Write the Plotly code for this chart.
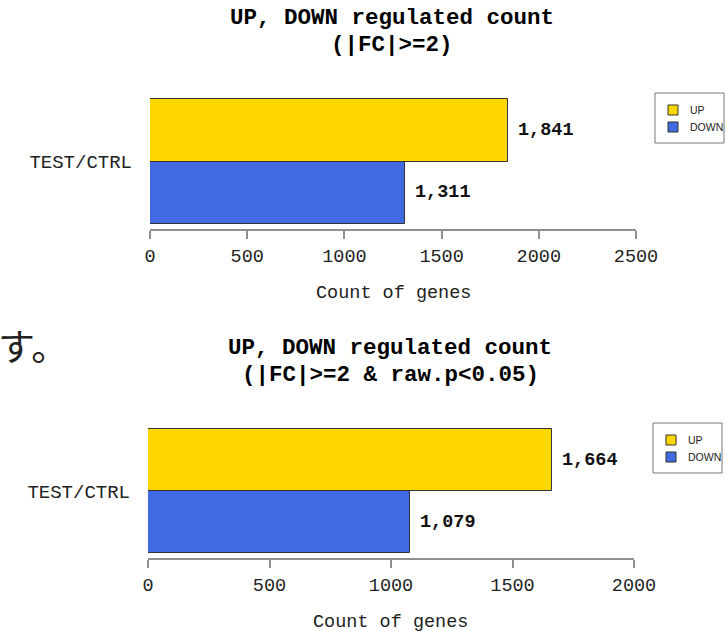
import plotly.graph_objects as go

W, H = 726, 631

category = ["TEST/CTRL"]
series_names = ["UP", "DOWN"]
chart1_up = [1841]
chart1_down = [1311]
chart2_up = [1664]
chart2_down = [1079]
chart1_title = ["UP, DOWN regulated count", "(|FC|>=2)"]
chart2_title = ["UP, DOWN regulated count", "(|FC|>=2 & raw.p<0.05)"]
chart1_ticks = [0, 500, 1000, 1500, 2000, 2500]
chart2_ticks = [0, 500, 1000, 1500, 2000]
x_title = "Count of genes"
side_text = "す。"

UP_COLOR = "#FFD700"
DOWN_COLOR = "#4169E1"
MONO = "Liberation Mono, DejaVu Sans Mono, monospace"
SANS = "Liberation Sans, Arial, sans-serif"

def px_x(p):
    return p / W

def px_y(p):
    return (H - p) / H

fig = go.Figure()

charts = [
    dict(up=chart1_up, down=chart1_down, xa="x", ya="y",
         ticks=chart1_ticks, title=chart1_title),
    dict(up=chart2_up, down=chart2_down, xa="x2", ya="y2",
         ticks=chart2_ticks, title=chart2_title),
]

for c in charts:
    fig.add_trace(go.Bar(
        y=category, x=c["down"], orientation="h", name=series_names[1],
        marker=dict(color=DOWN_COLOR, line=dict(color="#333333", width=1)),
        xaxis=c["xa"], yaxis=c["ya"], hoverinfo="skip", showlegend=False,
    ))
    fig.add_trace(go.Bar(
        y=category, x=c["up"], orientation="h", name=series_names[0],
        marker=dict(color=UP_COLOR, line=dict(color="#333333", width=1)),
        xaxis=c["xa"], yaxis=c["ya"], hoverinfo="skip", showlegend=False,
    ))

# layout geometry (pixels)
geo = [
    dict(x0=150, x1=636, top=97, bottom=229, title_y=(18, 45), xt_y=293,
         leg=(655, 93)),
    dict(x0=148, x1=634, top=427, bottom=558, title_y=(348, 375), xt_y=622,
         leg=(653, 423)),
]

axis_common = dict(
    showline=True, linecolor="#8f8f8f", linewidth=1.5,
    ticks="outside", ticklen=8, tickcolor="#8f8f8f", tickwidth=1.5,
    showgrid=False, zeroline=False, fixedrange=True,
    tickfont=dict(family=MONO, size=18.5, color="#222222"),
    ticklabelstandoff=1,
)

yaxis_common = dict(
    showline=False, ticks="", showgrid=False, zeroline=False,
    range=[-0.54, 0.516], fixedrange=True,
    tickfont=dict(family=MONO, size=19, color="#222222"),
    ticklabelstandoff=17,
)

annotations = []
shapes = []
for i, (c, g) in enumerate(zip(charts, geo)):
    xa_key = "xaxis" if i == 0 else "xaxis2"
    ya_key = "yaxis" if i == 0 else "yaxis2"
    fig.update_layout(**{
        xa_key: dict(axis_common, domain=[px_x(g["x0"]), px_x(g["x1"])],
                     range=[c["ticks"][0], c["ticks"][-1]], tickvals=c["ticks"],
                     anchor=c["ya"]),
        ya_key: dict(yaxis_common, domain=[px_y(g["bottom"]), px_y(g["top"])],
                     anchor=c["xa"]),
    })
    cx = (g["x0"] + g["x1"]) / 2
    for line, ty in zip(c["title"], g["title_y"]):
        annotations.append(dict(
            text=line, x=px_x(cx - 1), y=px_y(ty), xref="paper", yref="paper",
            xanchor="center", yanchor="middle", showarrow=False,
            font=dict(family=MONO, size=22.5, color="#000000", weight="bold"),
        ))
    annotations.append(dict(
        text=x_title, x=px_x(cx), y=px_y(g["xt_y"]), xref="paper", yref="paper",
        xanchor="center", yanchor="middle", showarrow=False,
        font=dict(family=MONO, size=18.5, color="#222222"),
    ))
    # value labels
    for val, shift in ((c["up"][0], 31), (c["down"][0], -31)):
        annotations.append(dict(
            text=f"{val:,}", x=val, y=category[0], xref=c["xa"], yref=c["ya"],
            xanchor="left", yanchor="middle", xshift=8, yshift=shift, showarrow=False,
            font=dict(family=MONO, size=18.5, color="#111111", weight="bold"),
        ))
    # legend box (R-style)
    lx, ly = g["leg"]
    shapes.append(dict(type="rect", xref="paper", yref="paper",
                       x0=px_x(lx), x1=px_x(lx + 69), y0=px_y(ly + 50), y1=px_y(ly),
                       line=dict(color="#777777", width=1), fillcolor="white"))
    for k, (name, col) in enumerate(zip(series_names, [UP_COLOR, DOWN_COLOR])):
        yc = ly + 17 + k * 17
        shapes.append(dict(type="rect", xref="paper", yref="paper",
                           x0=px_x(lx + 13), x1=px_x(lx + 23),
                           y0=px_y(yc + 5), y1=px_y(yc - 5),
                           line=dict(color="#333333", width=1), fillcolor=col))
        annotations.append(dict(
            text=name, x=px_x(lx + 33), y=px_y(yc), xref="paper", yref="paper",
            xanchor="left", yanchor="middle", showarrow=False,
            font=dict(family=SANS, size=10.5, color="#222222"),
        ))

annotations.append(dict(
    text=side_text, x=px_x(-4), y=px_y(345), xref="paper", yref="paper",
    xanchor="left", yanchor="middle", showarrow=False,
    font=dict(family="Noto Sans CJK JP", size=37, color="#222222"),
))

fig.update_layout(
    template="none",
    width=W, height=H,
    margin=dict(l=0, r=0, t=0, b=0),
    paper_bgcolor="white", plot_bgcolor="white",
    barmode="group", bargap=0, bargroupgap=0,
    showlegend=False,
    annotations=annotations,
    shapes=shapes,
)

fig.write_html(
    "out.html",
    config={"displayModeBar": False},
    post_script="document.body.style.margin='0';document.body.style.overflow='hidden';",
)
